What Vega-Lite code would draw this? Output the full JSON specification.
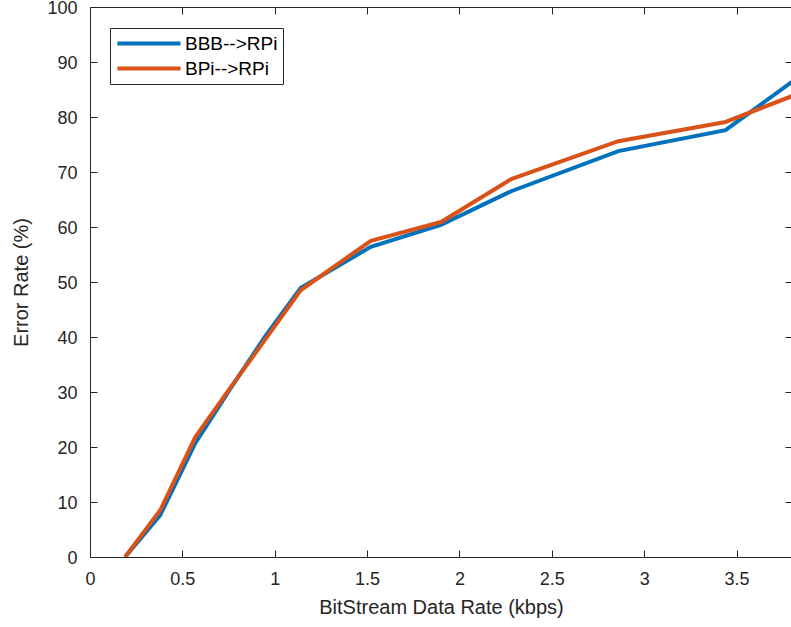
{
  "$schema": "https://vega.github.io/schema/vega-lite/v6.json",
  "width": 702,
  "height": 550,
  "autosize": {"type": "none"},
  "padding": {"left": 90, "top": 7, "right": 0, "bottom": 70},
  "background": "white",
  "config": {
    "view": {"stroke": null},
    "font": "Liberation Sans",
    "axis": {
      "grid": false,
      "domainColor": "#262626",
      "domainWidth": 1,
      "tickColor": "#262626",
      "tickWidth": 1,
      "tickSize": -7,
      "labelColor": "#262626",
      "titleColor": "#262626",
      "labelFont": "Liberation Sans",
      "titleFont": "Liberation Sans",
      "labelFontSize": 18,
      "titleFontSize": 20,
      "titleFontWeight": "normal"
    }
  },
  "data": {
    "values": [
      {"series": "BBB-->RPi", "rate": 0.19, "err": 0},
      {"series": "BBB-->RPi", "rate": 0.38, "err": 7.6},
      {"series": "BBB-->RPi", "rate": 0.57, "err": 20.7},
      {"series": "BBB-->RPi", "rate": 0.76, "err": 30.6},
      {"series": "BBB-->RPi", "rate": 0.95, "err": 40.2},
      {"series": "BBB-->RPi", "rate": 1.14, "err": 48.9},
      {"series": "BBB-->RPi", "rate": 1.52, "err": 56.4},
      {"series": "BBB-->RPi", "rate": 1.9, "err": 60.4},
      {"series": "BBB-->RPi", "rate": 2.28, "err": 66.5},
      {"series": "BBB-->RPi", "rate": 2.86, "err": 73.8},
      {"series": "BBB-->RPi", "rate": 3.44, "err": 77.6},
      {"series": "BBB-->RPi", "rate": 3.8, "err": 86.4},
      {"series": "BPi-->RPi", "rate": 0.19, "err": 0},
      {"series": "BPi-->RPi", "rate": 0.38, "err": 8.5},
      {"series": "BPi-->RPi", "rate": 0.57, "err": 21.8},
      {"series": "BPi-->RPi", "rate": 0.76, "err": 30.8},
      {"series": "BPi-->RPi", "rate": 0.95, "err": 39.6},
      {"series": "BPi-->RPi", "rate": 1.14, "err": 48.5},
      {"series": "BPi-->RPi", "rate": 1.52, "err": 57.5},
      {"series": "BPi-->RPi", "rate": 1.9, "err": 60.9},
      {"series": "BPi-->RPi", "rate": 2.28, "err": 68.7},
      {"series": "BPi-->RPi", "rate": 2.86, "err": 75.6},
      {"series": "BPi-->RPi", "rate": 3.44, "err": 79.1},
      {"series": "BPi-->RPi", "rate": 3.8, "err": 83.8}
    ]
  },
  "layer": [
    {
      "transform": [{"filter": "datum.series === 'BBB-->RPi'"}],
      "mark": {"type": "line", "strokeWidth": 4, "clip": true},
      "encoding": {
        "x": {"field": "rate", "type": "quantitative",
              "scale": {"domain": [0, 3.8], "nice": false},
              "axis": {"orient": "bottom", "title": "BitStream Data Rate (kbps)", "values": [0,0.5,1,1.5,2,2.5,3,3.5], "format": "~g", "labelPadding": 20, "titlePadding": 9, "labelFlush": false}},
        "y": {"field": "err", "type": "quantitative",
              "scale": {"domain": [0, 100], "nice": false},
              "axis": {"orient": "left", "title": "Error Rate (%)", "values": [0,10,20,30,40,50,60,70,80,90,100], "labelPadding": 20, "labelOffset": 1.5, "titlePadding": 15}},
        "color": {"field": "series", "type": "nominal",
                  "scale": {"domain": ["BBB-->RPi", "BPi-->RPi"], "range": ["#0072BD", "#D95319"]},
                  "legend": {"orient": "none", "legendX": 20, "legendY": 21, "title": null,
                             "symbolType": "M-1,0H6.8", "symbolSize": 262, "symbolStrokeWidth": 4,
                             "labelFontSize": 19, "labelColor": "#000000", "labelFont": "Liberation Sans",
                             "labelExpr": "datum.label + '\u00a0\u00a0'",
                             "strokeColor": "#262626", "fillColor": "white", "padding": 5, "rowPadding": 4, "labelOffset": 49}}
      }
    },
    {
      "transform": [{"filter": "datum.series === 'BPi-->RPi'"}],
      "mark": {"type": "line", "strokeWidth": 4, "clip": true},
      "encoding": {
        "x": {"field": "rate", "type": "quantitative",
              "scale": {"domain": [0, 3.8], "nice": false},
              "axis": {"orient": "top", "title": null, "labels": false, "values": [0,0.5,1,1.5,2,2.5,3,3.5]}},
        "y": {"field": "err", "type": "quantitative",
              "scale": {"domain": [0, 100], "nice": false},
              "axis": {"orient": "right", "title": null, "labels": false, "values": [0,10,20,30,40,50,60,70,80,90,100]}},
        "color": {"field": "series", "type": "nominal"}
      }
    }
  ],
  "resolve": {"axis": {"x": "independent", "y": "independent"}}
}
